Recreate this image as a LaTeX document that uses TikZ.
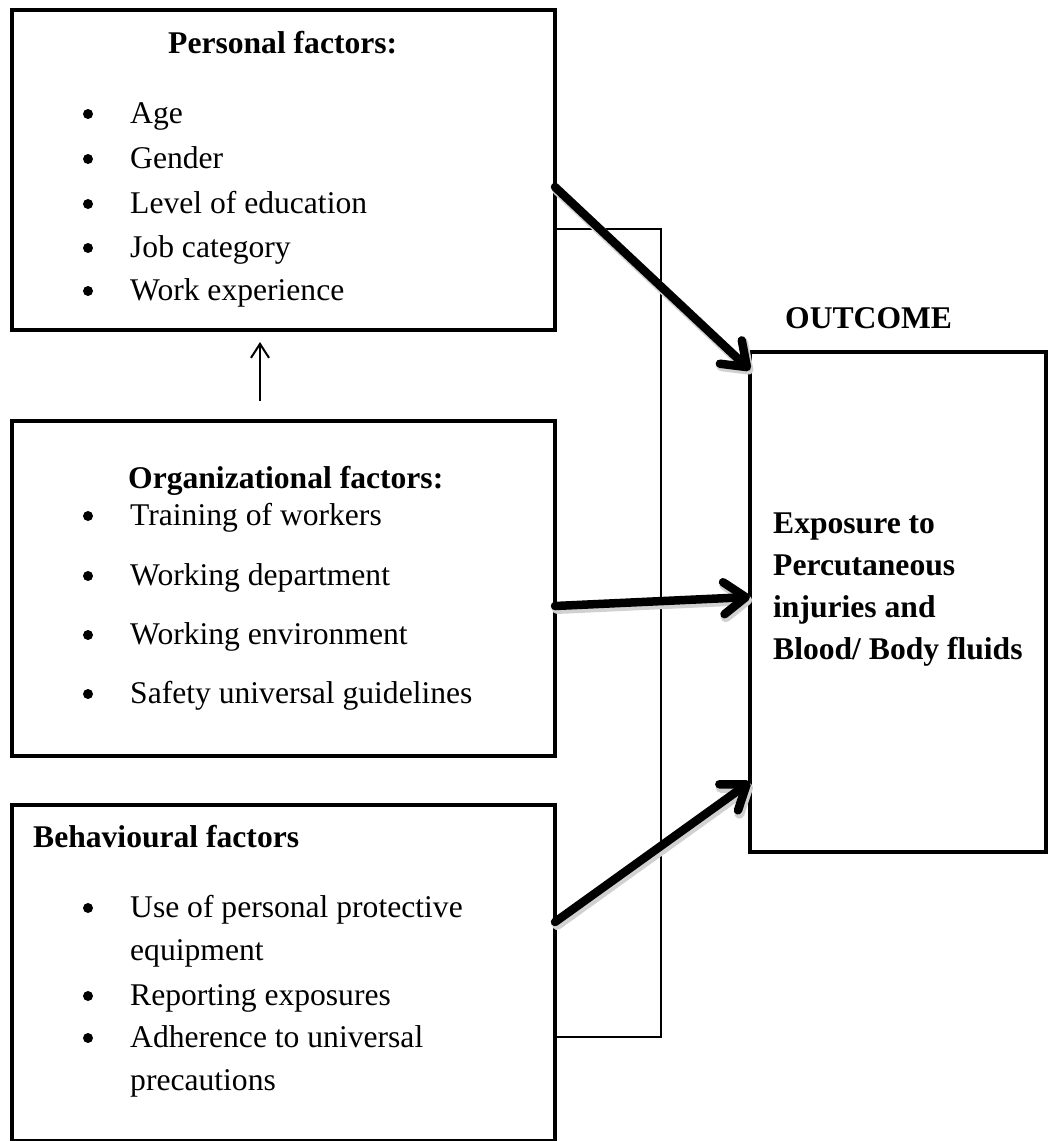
\documentclass[tikz,border=0pt]{standalone}
\usepackage{fontspec}
\setmainfont{Liberation Serif}
\usetikzlibrary{arrows.meta}
\begin{document}
\begin{tikzpicture}[x=1pt,y=-1pt,
  box/.style={draw, line width=4.5pt, anchor=north west, outer sep=0pt, inner sep=0pt},
  txt/.style={anchor=base west, inner sep=0pt, font=\fontsize{31.6}{38}\selectfont},
  btxt/.style={txt, font=\fontsize{31.6}{38}\selectfont\bfseries},
  bul/.style={circle, fill=black, inner sep=0pt, minimum size=10pt, yshift=9pt},
  bigarrow/.style={line width=8.5pt, line cap=round, -{Straight Barb[length=22pt,width=32pt,round]}},
  shadowarrow/.style={bigarrow, draw=black!18, line width=10pt, transform canvas={shift={(2pt,-3pt)}}},
  smallarrow/.style={line width=2pt, -{Straight Barb[length=14pt,width=18pt]}},
  link/.style={line width=1.6pt}]
\useasboundingbox (0,0) rectangle (1049,1141);
\fill[white] (0,0) rectangle (1049,1141);

% boxes
\node[box, minimum width=543pt, minimum height=320pt] (pers) at (12,10) {};
\node[box, minimum width=543pt, minimum height=335pt] (org) at (12,421) {};
\node[box, minimum width=543pt, minimum height=336pt] (behav) at (12,805) {};
\node[box, minimum width=296pt, minimum height=500pt] (out) at (750,352) {};

% personal factors
\node[btxt] (ph) at (168,53) {Personal factors:};
\foreach \y/\t/\n in {123/Age/p1, 168/Gender/p2, 213/Level of education/p3, 257/Job category/p4, 300/Work experience/p5}{
  \node[bul] (b\n) at (88,\y) {};
  \node[txt] (\n) at (130,\y) {\t};
}

% organizational factors
\node[btxt] (oh) at (128,488) {Organizational factors:};
\foreach \y/\t/\n in {525/Training of workers/o1, 585/Working department/o2, 644/Working environment/o3, 703/Safety universal guidelines/o4}{
  \node[bul] (b\n) at (88,\y) {};
  \node[txt] (\n) at (130,\y) {\t};
}

% behavioural factors
\node[btxt] (bh) at (33,847) {Behavioural factors};
\node[bul] (bq1) at (88,917) {};
\node[txt] (q1) at (130,917) {Use of personal protective};
\node[txt] (q1b) at (130,960) {equipment};
\node[bul] (bq2) at (88,1005) {};
\node[txt] (q2) at (130,1005) {Reporting exposures};
\node[bul] (bq3) at (88,1047) {};
\node[txt] (q3) at (130,1047) {Adherence to universal};
\node[txt] (q3b) at (130,1090) {precautions};

% outcome
\node[btxt] (oc) at (785,328) {OUTCOME};
\node[btxt] (e1) at (773,533) {Exposure to};
\node[btxt] (e2) at (773,575) {Percutaneous};
\node[btxt] (e3) at (773,617) {injuries and};
\node[btxt] (e4) at (773,659) {Blood/ Body fluids};

% connector coordinates
\coordinate (a1s) at (555,187);
\coordinate (a1e) at (748,370);
\coordinate (a2s) at (555,606);
\coordinate (a2e) at (748,597);
\coordinate (a3s) at (555,922);
\coordinate (a3e) at (748,782);
\coordinate (lk1) at (661,229);
\coordinate (lk2) at (661,1037);
\coordinate (sa1) at (260,401);
\coordinate (sa2) at (260,342);

% thin link line
\draw[link] (pers.east |- lk1) -- (lk1) -- (lk2) -- (behav.east |- lk2);

% thick arrows (with soft shadow)
\draw[shadowarrow] (pers.east |- a1s) -- (out.west |- a1e);
\draw[shadowarrow] (org.east |- a2s) -- (out.west |- a2e);
\draw[shadowarrow] (behav.east |- a3s) -- (out.west |- a3e);
\draw[bigarrow] (pers.east |- a1s) -- (out.west |- a1e);
\draw[bigarrow] (org.east |- a2s) -- (out.west |- a2e);
\draw[bigarrow] (behav.east |- a3s) -- (out.west |- a3e);

% small arrow
\draw[smallarrow] (sa1) -- (sa2);
\end{tikzpicture}
\end{document}
